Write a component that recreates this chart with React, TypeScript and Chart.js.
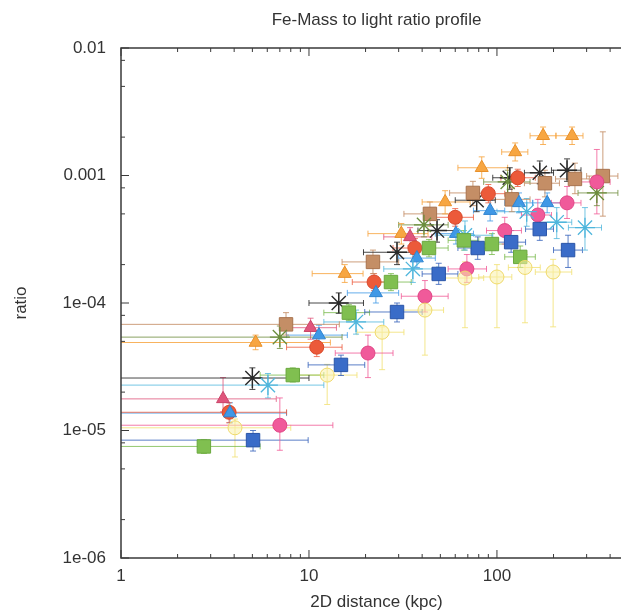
import React, { useEffect, useRef } from 'react';
import { Chart, registerables } from 'chart.js';

Chart.register(...registerables);

// ---- axes ----
const xTickValues = [1, 10, 100];
const xTickLabels = ['1', '10', '100'];
const yTickValues = [1e-6, 1e-5, 1e-4, 1e-3, 1e-2];
const yTickLabels = ['1e-06', '1e-05', '1e-04', '0.001', '0.01'];
const xMinorTicks = [2, 3, 4, 5, 6, 7, 8, 9, 20, 30, 40, 50, 60, 70, 80, 90, 200, 300, 400, 500];
const yMinorTicks = [2e-6, 5e-6, 8e-6, 2e-5, 5e-5, 8e-5, 2e-4, 5e-4, 8e-4, 2e-3, 5e-3, 8e-3];
const xMin = 1;
const xMax = 523;
const yMin = 1e-6;
const yMax = 1e-2;

// ---- series (x = 2D distance kpc, y = ratio; Lo/Hi = error bar ends) ----
// orange triangles
const orangeX = [5.2, 15.5, 31, 53, 83, 125, 176, 251];
const orangeY = [4.9e-5, 1.7e-4, 3.5e-4, 6.2e-4, 1.15e-3, 1.53e-3, 2.05e-3, 2.05e-3];
const orangeXLo = [0.5, 10.4, 20.6, 40, 62, 106, 150, 206];
const orangeXHi = [13, 19.4, 43, 72, 114, 146, 206, 287];
const orangeYLo = [4.3e-5, 1.45e-4, 2.9e-4, 5.0e-4, 9.5e-4, 1.3e-3, 1.75e-3, 1.75e-3];
const orangeYHi = [5.6e-5, 2.0e-4, 4.2e-4, 7.6e-4, 1.4e-3, 1.8e-3, 2.4e-3, 2.4e-3];

// brown squares
const brownX = [7.55, 21.9, 44, 74.5, 120, 180, 260, 366];
const brownY = [6.8e-5, 2.1e-4, 5.0e-4, 7.3e-4, 6.5e-4, 8.7e-4, 9.4e-4, 9.9e-4];
const brownXLo = [0.5, 15, 32, 56, 92, 140, 205, 300];
const brownXHi = [14.5, 30, 58, 95, 150, 215, 310, 440];
const brownYLo = [5.6e-5, 1.7e-4, 4.0e-4, 5.8e-4, 5.2e-4, 6.8e-4, 7.2e-4, 4.8e-4];
const brownYHi = [8.4e-5, 2.6e-4, 6.2e-4, 9.0e-4, 8.0e-4, 1.1e-3, 1.25e-3, 2.2e-3];

// black asterisks
const blackX = [5.0, 14.4, 29.4, 48, 78, 117, 169, 236];
const blackY = [2.58e-5, 1.0e-4, 2.5e-4, 3.7e-4, 6.4e-4, 9.6e-4, 1.05e-3, 1.1e-3];
const blackXLo = [0.5, 10, 19.5, 38, 60, 95, 140, 195];
const blackXHi = [10, 19.5, 38, 60, 98, 140, 200, 280];
const blackYLo = [2.1e-5, 8.3e-5, 2.0e-4, 3.0e-4, 5.2e-4, 7.8e-4, 8.6e-4, 9.0e-4];
const blackYHi = [3.1e-5, 1.2e-4, 3.0e-4, 4.5e-4, 7.8e-4, 1.15e-3, 1.3e-3, 1.35e-3];

// red circles
const redX = [3.76, 11, 22.2, 36.6, 60, 90, 129];
const redY = [1.39e-5, 4.5e-5, 1.46e-4, 2.7e-4, 4.7e-4, 7.2e-4, 9.6e-4];
const redXLo = [0.5, 7.6, 17, 28, 46, 72, 105];
const redXHi = [7.6, 15, 29, 47, 75, 110, 160];
const redYLo = [1.15e-5, 3.8e-5, 1.25e-4, 2.3e-4, 4.0e-4, 6.1e-4, 8.2e-4];
const redYHi = [1.65e-5, 5.3e-5, 1.7e-4, 3.2e-4, 5.5e-4, 8.5e-4, 1.12e-3];

// pink circles
const pinkX = [7.0, 20.6, 41.4, 69.2, 110, 165, 236, 340];
const pinkY = [1.1e-5, 4.05e-5, 1.13e-4, 1.85e-4, 3.7e-4, 4.9e-4, 6.1e-4, 8.9e-4];
const pinkXLo = [0.5, 13.8, 31, 55, 88, 135, 195, 280];
const pinkXHi = [13.4, 28, 55, 88, 135, 195, 280, 400];
const pinkYLo = [7e-6, 2.6e-5, 8.5e-5, 1.45e-4, 2.9e-4, 3.8e-4, 4.6e-4, 5.0e-4];
const pinkYHi = [1.8e-5, 5.6e-5, 1.5e-4, 2.4e-4, 4.7e-4, 6.5e-4, 8.2e-4, 1.6e-3];

// blue squares
const blueX = [5.04, 14.8, 29.4, 49, 79, 119, 169, 239];
const blueY = [8.4e-6, 3.27e-5, 8.5e-5, 1.69e-4, 2.7e-4, 3.0e-4, 3.8e-4, 2.6e-4];
const blueXLo = [0.5, 9.9, 19.8, 40, 62, 98, 142, 200];
const blueXHi = [9.9, 19.8, 40, 62, 98, 142, 200, 285];
const blueYLo = [6.9e-6, 2.7e-5, 7.1e-5, 1.4e-4, 2.2e-4, 2.5e-4, 3.1e-4, 1.9e-4];
const blueYHi = [1.0e-5, 3.9e-5, 1.0e-4, 2.05e-4, 3.3e-4, 3.7e-4, 4.6e-4, 3.4e-4];

// green squares
const greenX = [2.76, 8.2, 16.3, 27.3, 43.5, 66.7, 94, 133];
const greenY = [7.5e-6, 2.72e-5, 8.4e-5, 1.46e-4, 2.7e-4, 3.1e-4, 2.9e-4, 2.3e-4];
const greenXLo = [0.5, 5.5, 12, 21, 35, 55, 80, 110];
const greenXHi = [5.5, 12, 21, 35, 55, 80, 110, 160];
const greenYLo = [6.6e-6, 2.4e-5, 7.3e-5, 1.25e-4, 2.3e-4, 2.6e-4, 2.4e-4, 1.9e-4];
const greenYHi = [8.5e-6, 3.1e-5, 9.7e-5, 1.7e-4, 3.15e-4, 3.7e-4, 3.5e-4, 2.8e-4];

// light blue triangles
const ltblueX = [3.8, 11.3, 22.7, 37.5, 60.5, 92, 131, 185];
const ltblueY = [1.37e-5, 5.6e-5, 1.2e-4, 2.25e-4, 3.5e-4, 5.3e-4, 6.1e-4, 6.1e-4];
const ltblueXLo = [0.5, 7.6, 16, 30, 47, 75, 110, 155];
const ltblueXHi = [7.6, 16, 30, 47, 75, 110, 155, 220];
const ltblueYLo = [1.15e-5, 4.7e-5, 1.0e-4, 1.9e-4, 2.9e-4, 4.4e-4, 5.1e-4, 5.1e-4];
const ltblueYHi = [1.65e-5, 6.7e-5, 1.45e-4, 2.7e-4, 4.2e-4, 6.4e-4, 7.3e-4, 7.3e-4];

// cyan asterisks
const cyanX = [6.05, 17.8, 35.7, 67.6, 144, 208, 294];
const cyanY = [2.27e-5, 7.1e-5, 1.85e-4, 3.4e-4, 5.2e-4, 4.3e-4, 3.9e-4];
const cyanXLo = [0.5, 12, 25, 48, 100, 170, 240];
const cyanXHi = [12, 25, 48, 95, 175, 250, 360];
const cyanYLo = [1.8e-5, 5.7e-5, 1.45e-4, 2.6e-4, 4.0e-4, 3.2e-4, 2.6e-4];
const cyanYHi = [2.8e-5, 8.8e-5, 2.4e-4, 4.4e-4, 6.6e-4, 5.6e-4, 5.6e-4];

// yellow open circles
const yellowX = [4.04, 12.5, 24.5, 41.4, 67.6, 100, 141, 199];
const yellowY = [1.05e-5, 2.72e-5, 5.9e-5, 8.8e-5, 1.57e-4, 1.6e-4, 1.9e-4, 1.75e-4];
const yellowXLo = [0.5, 8.5, 18, 30, 52, 80, 115, 160];
const yellowXHi = [8, 18, 32, 52, 85, 120, 170, 250];
const yellowYLo = [6.2e-6, 1.6e-5, 3.0e-5, 3.9e-5, 6.4e-5, 6.4e-5, 7.0e-5, 6.5e-5];
const yellowYHi = [1.23e-5, 3.3e-5, 6.5e-5, 1.27e-4, 2.1e-4, 2.0e-4, 2.4e-4, 2.2e-4];

// crimson triangles
const crimsonX = [3.49, 10.2, 34.5];
const crimsonY = [1.77e-5, 6.4e-5, 3.3e-4];
const crimsonXLo = [0.5, 7, 25];
const crimsonXHi = [6.7, 14, 45];
const crimsonYLo = [1.4e-5, 5.2e-5, 2.8e-4];
const crimsonYHi = [2.6e-5, 7.6e-5, 3.9e-4];

// olive asterisks
const oliveX = [7.0, 40.9, 114, 340];
const oliveY = [5.4e-5, 4.1e-4, 8.9e-4, 7.3e-4];
const oliveXLo = [0.5, 30, 85, 270];
const oliveXHi = [15, 55, 150, 440];
const oliveYLo = [4.4e-5, 3.3e-4, 7.2e-4, 5.8e-4];
const oliveYHi = [6.6e-5, 5.1e-4, 1.1e-3, 9.2e-4];

const FONT = "'Liberation Sans', Arial, Helvetica, sans-serif";
const TEXT = '#333333';

function pts(x: number[], y: number[], xLo: number[], xHi: number[], yLo: number[], yHi: number[]) {
  return x.map((v, i) => ({ x: v, y: y[i], xLo: xLo[i], xHi: xHi[i], yLo: yLo[i], yHi: yHi[i] }));
}

function series(data: any[], style: string, fill: string, border: string, err: string, radius: number, bw = 1) {
  return {
    data,
    pointStyle: style,
    backgroundColor: fill,
    borderColor: border,
    pointBorderWidth: bw,
    pointRadius: radius,
    errColor: err,
  } as any;
}

const errorBarPlugin = {
  id: 'errorBars',
  beforeDatasetsDraw(chart: any) {
    const { ctx, chartArea: a, scales } = chart;
    const xs = scales.x, ys = scales.y;
    const cap = 3;
    ctx.save();
    ctx.beginPath();
    ctx.rect(a.left, a.top, a.right - a.left, a.bottom - a.top);
    ctx.clip();
    chart.data.datasets.forEach((ds: any) => {
      ctx.strokeStyle = ds.errColor;
      ctx.lineWidth = 1;
      ds.data.forEach((p: any) => {
        const px = xs.getPixelForValue(p.x);
        const py = ys.getPixelForValue(p.y);
        const x0 = xs.getPixelForValue(p.xLo);
        const x1 = xs.getPixelForValue(p.xHi);
        const y0 = ys.getPixelForValue(p.yLo);
        const y1 = ys.getPixelForValue(p.yHi);
        ctx.beginPath();
        ctx.moveTo(x0, py); ctx.lineTo(x1, py);
        ctx.moveTo(x0, py - cap); ctx.lineTo(x0, py + cap);
        ctx.moveTo(x1, py - cap); ctx.lineTo(x1, py + cap);
        ctx.moveTo(px, y0); ctx.lineTo(px, y1);
        ctx.moveTo(px - cap, y0); ctx.lineTo(px + cap, y0);
        ctx.moveTo(px - cap, y1); ctx.lineTo(px + cap, y1);
        ctx.stroke();
      });
    });
    ctx.restore();
  },
};

const framePlugin = {
  id: 'frame',
  afterDatasetsDraw(chart: any) {
    const { ctx, chartArea: a, scales } = chart;
    const xs = scales.x, ys = scales.y;
    ctx.save();
    ctx.strokeStyle = '#3a3a3a';
    ctx.lineWidth = 1.5;
    ctx.beginPath();
    ctx.moveTo(a.right, a.top); ctx.lineTo(a.left, a.top);
    ctx.lineTo(a.left, a.bottom); ctx.lineTo(a.right, a.bottom);
    ctx.stroke();
    ctx.lineWidth = 1;
    ctx.beginPath();
    const xt = (v: number, len: number) => {
      const px = xs.getPixelForValue(v);
      if (px < a.left - 0.5 || px > a.right + 0.5) return;
      ctx.moveTo(px, a.bottom); ctx.lineTo(px, a.bottom - len);
      ctx.moveTo(px, a.top); ctx.lineTo(px, a.top + len);
    };
    const yt = (v: number, len: number) => {
      const py = ys.getPixelForValue(v);
      ctx.moveTo(a.left, py); ctx.lineTo(a.left + len, py);
    };
    xTickValues.forEach((v) => xt(v, 8));
    xMinorTicks.forEach((v) => xt(v, 4));
    yTickValues.forEach((v) => yt(v, 8));
    yMinorTicks.forEach((v) => yt(v, 4));
    ctx.stroke();
    ctx.restore();
  },
};

export default function App() {
  const ref = useRef<HTMLCanvasElement | null>(null);
  useEffect(() => {
    if (!ref.current) return;
    const datasets = [
      series(pts(yellowX, yellowY, yellowXLo, yellowXHi, yellowYLo, yellowYHi), 'circle', 'rgba(250,240,170,0.55)', '#efd96a', 'rgba(242,226,120,0.85)', 7),
      series(pts(greenX, greenY, greenXLo, greenXHi, greenYLo, greenYHi), 'rect', '#80bf50', '#6aa83e', 'rgba(120,185,75,0.8)', 9.5),
      series(pts(blueX, blueY, blueXLo, blueXHi, blueYLo, blueYHi), 'rect', '#3a6cc8', '#2a55a8', 'rgba(50,95,185,0.8)', 9.5),
      series(pts(cyanX, cyanY, cyanXLo, cyanXHi, cyanYLo, cyanYHi), 'star', 'rgba(0,0,0,0)', '#4fb6dc', 'rgba(80,182,220,0.8)', 10, 1.3),
      series(pts(ltblueX, ltblueY, ltblueXLo, ltblueXHi, ltblueYLo, ltblueYHi), 'triangle', '#3f98e6', '#2f84d0', 'rgba(63,152,230,0.8)', 7.5),
      series(pts(pinkX, pinkY, pinkXLo, pinkXHi, pinkYLo, pinkYHi), 'circle', '#f05a9a', '#e04585', 'rgba(240,90,150,0.8)', 7),
      series(pts(redX, redY, redXLo, redXHi, redYLo, redYHi), 'circle', '#ec5a3a', '#d84a2c', 'rgba(236,90,60,0.8)', 7),
      series(pts(crimsonX, crimsonY, crimsonXLo, crimsonXHi, crimsonYLo, crimsonYHi), 'triangle', '#e0557c', '#c94468', 'rgba(224,85,124,0.8)', 7.5),
      series(pts(oliveX, oliveY, oliveXLo, oliveXHi, oliveYLo, oliveYHi), 'star', 'rgba(0,0,0,0)', '#6b8d3c', 'rgba(110,140,60,0.8)', 10, 1.3),
      series(pts(brownX, brownY, brownXLo, brownXHi, brownYLo, brownYHi), 'rect', '#c48e66', '#a8734e', 'rgba(196,142,102,0.85)', 9.5),
      series(pts(orangeX, orangeY, orangeXLo, orangeXHi, orangeYLo, orangeYHi), 'triangle', '#f7a642', '#e8902a', 'rgba(247,166,66,0.85)', 7.5),
      series(pts(blackX, blackY, blackXLo, blackXHi, blackYLo, blackYHi), 'star', 'rgba(0,0,0,0)', '#2a2a2a', 'rgba(40,40,40,0.85)', 10, 1.4),
    ];
    const chart = new Chart(ref.current, {
      type: 'scatter',
      data: { datasets },
      options: {
        animation: false,
        responsive: false,
        layout: { padding: 0, autoPadding: false },
        plugins: {
          legend: { display: false },
          tooltip: { enabled: false },
          title: {
            display: true,
            text: 'Fe-Mass to light ratio profile',
            fullSize: false,
            color: TEXT,
            font: { family: FONT, size: 17, weight: 'normal' },
            padding: { top: 10, bottom: 17.6 },
          },
        },
        scales: {
          x: {
            type: 'logarithmic',
            position: 'bottom',
            min: xMin,
            max: xMax,
            afterBuildTicks: (s: any) => { s.ticks = xTickValues.map((v) => ({ value: v })); },
            afterFit: (s: any) => { s.height = 55; s.paddingRight = 0; s.paddingLeft = 0; },
            grid: { display: false, drawTicks: false },
            border: { display: false },
            ticks: {
              autoSkip: false,
              maxRotation: 0,
              padding: 8,
              color: TEXT,
              font: { family: FONT, size: 17 },
              callback: (v: any) => { const i = xTickValues.indexOf(Number(v)); return i >= 0 ? xTickLabels[i] : ''; },
            },
            title: {
              display: true,
              text: '2D distance (kpc)',
              color: TEXT,
              font: { family: FONT, size: 17 },
              padding: { top: 0, bottom: 0 },
            },
          },
          y: {
            type: 'logarithmic',
            position: 'left',
            min: yMin,
            max: yMax,
            afterBuildTicks: (s: any) => { s.ticks = yTickValues.map((v) => ({ value: v })); },
            afterFit: (s: any) => { s.width = 121; },
            grid: { display: false, drawTicks: false },
            border: { display: false },
            ticks: {
              autoSkip: false,
              padding: 15,
              color: TEXT,
              font: { family: FONT, size: 17 },
              callback: (v: any) => { const i = yTickValues.indexOf(Number(v)); return i >= 0 ? yTickLabels[i] : ''; },
            },
            title: {
              display: true,
              text: 'ratio',
              color: TEXT,
              font: { family: FONT, size: 17 },
              padding: { top: 11, bottom: 0 },
            },
          },
        },
      } as any,
      plugins: [errorBarPlugin, framePlugin],
    });
    return () => chart.destroy();
  }, []);
  return (
    <div style={{ position: 'fixed', left: 0, top: 0, width: 621, height: 613, overflow: 'hidden', background: '#fff' }}>
      <div style={{ width: 632, height: 613 }}>
        <canvas ref={ref} width={632} height={613} style={{ display: 'block', width: 632, height: 613 }} />
      </div>
    </div>
  );
}
